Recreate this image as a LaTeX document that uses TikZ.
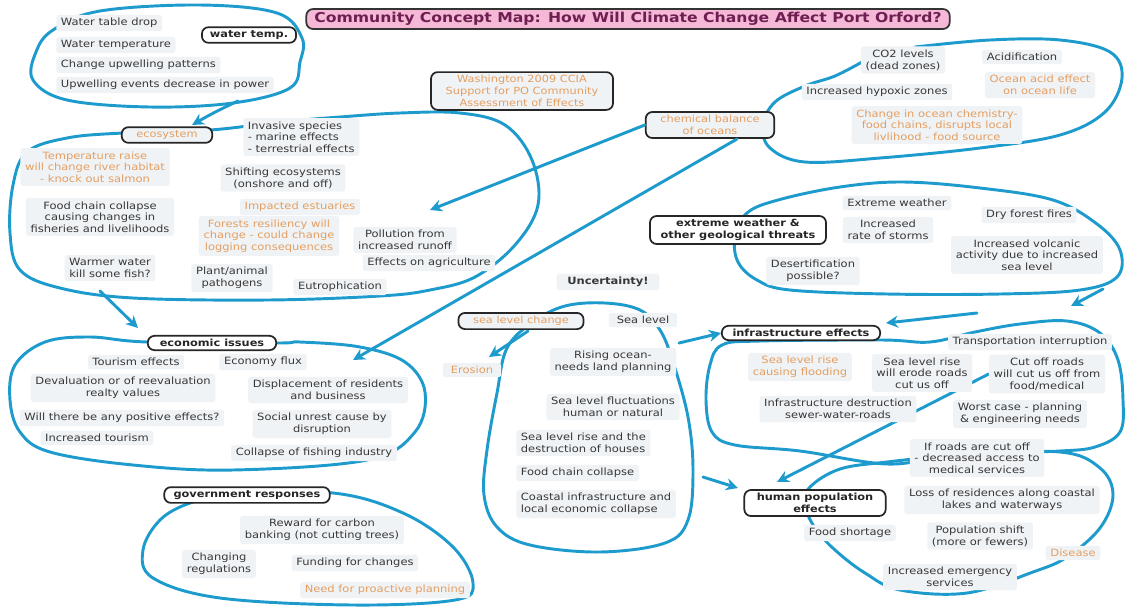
\documentclass[tikz,border=0pt]{standalone}
\usepackage{fontspec}
\setmainfont[FakeStretch=1.15]{DejaVu Sans}
\usetikzlibrary{arrows.meta,backgrounds}
\definecolor{lineblue}{RGB}{30,155,205}
\definecolor{orangetext}{RGB}{228,158,96}
\definecolor{textgray}{RGB}{55,55,55}
\definecolor{itemfill}{RGB}{240,243,246}
\definecolor{titlefill}{RGB}{245,185,215}
\definecolor{titletext}{RGB}{110,30,80}
\tikzset{
  blob/.style={draw=lineblue, line width=2.2pt, line cap=round},
  arr/.style={draw=lineblue, line width=2.2pt, line cap=round, -{Stealth[length=9pt,width=9pt]}},
  item/.style={fill=itemfill, rounded corners=2pt, inner xsep=3.5pt, inner ysep=2.5pt,
    font=\fontsize{7.5}{8.8}\selectfont, text=textgray, align=center},
  oitem/.style={item, text=orangetext},
  topic/.style={draw=black!85, line width=1.3pt, fill=white, rounded corners=5pt,
    font=\fontsize{7.4}{8.8}\selectfont\bfseries, text=black!85, align=center,
    inner xsep=6pt, inner ysep=2.5pt},
  otopic/.style={topic, fill=itemfill, text=orangetext, inner xsep=11pt,
    font=\fontsize{7.4}{8.8}\selectfont},
  titlebox/.style={draw=black!80, line width=1.3pt, fill=titlefill, rounded corners=5pt,
    font=\fontsize{10.2}{12}\selectfont\bfseries, text=titletext, inner xsep=6pt, inner ysep=2.5pt}
}
\begin{document}
\begin{tikzpicture}[x=0.75pt,y=-0.75pt]
\useasboundingbox (0,0) rectangle (1128,608);
% title
\node[titlebox] (title) at (628,19) {Community Concept Map: How Will Climate Change Affect Port Orford?};
% water temp
\node[topic] (wt) at (249,35) {water temp.};
\node[item,anchor=west] (w1) at (56,23) {Water table drop};
\node[item,anchor=west] (w2) at (56,45) {Water temperature};
\node[item,anchor=west] (w3) at (56,65) {Change upwelling patterns};
\node[item,anchor=west] (w4) at (56,85) {Upwelling events decrease in power};
% ecosystem
\node[otopic] (eco) at (167,135) {ecosystem};
\node[oitem] (e1) at (95,167) {Temperature raise\\will change river habitat\\- knock out salmon};
\node[item] (e2) at (100,217) {Food chain collapse\\causing changes in\\fisheries and livelihoods};
\node[item] (e3) at (110,268) {Warmer water\\kill some fish?};
\node[item,anchor=west,align=left] (e4) at (243,137) {Invasive species\\- marine effects\\- terrestrial effects};
\node[item] (e5) at (283,178) {Shifting ecosystems\\(onshore and off)};
\node[oitem] (e6) at (300,207) {Impacted estuaries};
\node[oitem] (e7) at (269,236) {Forests resiliency will\\change - could change\\logging consequences};
\node[item] (e8) at (232,278) {Plant/animal\\pathogens};
\node[item] (e9) at (340,287) {Eutrophication};
\node[item] (e10) at (405,240) {Pollution from\\increased runoff};
\node[item] (e11) at (429,263) {Effects on agriculture};
% washington
\node[otopic] (wash) at (522,91) {Washington 2009 CCIA\\Support for PO Community\\Assessment of Effects};
% chemical
\node[otopic] (chem) at (710,125) {chemical balance\\of oceans};
\node[item] (c1) at (903,60) {CO2 levels\\(dead zones)};
\node[item] (c2) at (1022,57) {Acidification};
\node[oitem] (c3) at (1040,85) {Ocean acid effect\\on ocean life};
\node[item] (c4) at (877,92) {Increased hypoxic zones};
\node[oitem] (c5) at (937,125) {Change in ocean chemistry-\\food chains, disrupts local\\livlihood - food source};
% extreme weather
\node[topic, inner xsep=8pt] (ext) at (738,230) {extreme weather \&\\other geological threats};
\node[item] (x1) at (897,203) {Extreme weather};
\node[item] (x2) at (888,230) {Increased\\rate of storms};
\node[item] (x3) at (1029,215) {Dry forest fires};
\node[item] (x4) at (1027,255) {Increased volcanic\\activity due to increased\\sea level};
\node[item] (x5) at (813,271) {Desertification\\possible?};
% uncertainty
\node[item, font=\fontsize{7.5}{8.8}\selectfont\bfseries, inner xsep=8pt] (unc) at (608,282) {Uncertainty!};
% sea level
\node[otopic] (sea) at (521,321) {sea level change};
\node[item, inner xsep=6pt] (s0) at (643,320) {Sea level};
\node[oitem, inner xsep=6pt] (ero) at (472,370) {Erosion};
\node[item] (s1) at (613,362) {Rising ocean-\\needs land planning};
\node[item] (s2) at (613,407) {Sea level fluctuations\\human or natural};
\node[item,anchor=west,align=left] (s3) at (516,443) {Sea level rise and the\\destruction of houses};
\node[item,anchor=west,align=left] (s4) at (516,473) {Food chain collapse};
\node[item,anchor=west,align=left] (s5) at (516,504) {Coastal infrastructure and\\local economic collapse};
% infrastructure
\node[topic, inner xsep=8pt] (inf) at (801,333) {infrastructure effects};
\node[item] (i1) at (1030,342) {Transportation interruption};
\node[oitem] (i2) at (800,367) {Sea level rise\\causing flooding};
\node[item] (i3) at (922,373) {Sea level rise\\will erode roads\\cut us off};
\node[item] (i4) at (1047,374) {Cut off roads\\will cut us off from\\food/medical};
\node[item] (i5) at (838,409) {Infrastructure destruction\\sewer-water-roads};
\node[item] (i6) at (1020,414) {Worst case - planning\\\& engineering needs};
% human population
\node[topic, minimum width=106pt] (hum) at (815,503) {human population\\effects};
\node[item] (h1) at (977,458) {If roads are cut off\\- decreased access to\\medical services};
\node[item] (h2) at (1002,500) {Loss of residences along coastal\\lakes and waterways};
\node[item] (h3) at (850,533) {Food shortage};
\node[item] (h4) at (980,536) {Population shift\\(more or fewers)};
\node[oitem] (h5) at (1073,553) {Disease};
\node[item] (h6) at (950,577) {Increased emergency\\services};
% economic
\node[topic, inner xsep=9pt] (eci) at (212,343) {economic issues};
\node[item] (n1) at (136,362) {Tourism effects};
\node[item] (n2) at (263,362) {Economy flux};
\node[item] (n3) at (123,388) {Devaluation or of reevaluation\\realty values};
\node[item] (n4) at (328,390) {Displacement of residents\\and business};
\node[item] (n5) at (122,418) {Will there be any positive effects?};
\node[item] (n6) at (322,424) {Social unrest cause by\\disruption};
\node[item] (n7) at (97,438) {Increased tourism};
\node[item] (n8) at (314,453) {Collapse of fishing industry};
% government
\node[topic, inner xsep=7pt] (gov) at (247,495) {government responses};
\node[item] (g1) at (322,530) {Reward for carbon\\banking (not cutting trees)};
\node[item] (g2) at (219,564) {Changing\\regulations};
\node[item] (g3) at (355,563) {Funding for changes};
\node[oitem] (g4) at (385,590) {Need for proactive planning};
% connector end points
\coordinate (p1s) at (238,101);
\coordinate (p1e) at (192,125);
\coordinate (p2e) at (430,210);
\coordinate (p3s) at (737,139);
\coordinate (p3e) at (353,360);
\coordinate (p4s) at (100,291);
\coordinate (p4e) at (138,328);
\coordinate (p5s) at (528,331);
\coordinate (p5e) at (489,357);
\coordinate (p6s) at (679,343);
\coordinate (p7s) at (703,477);
\coordinate (p7e) at (738,488);
\coordinate (p8s) at (1103,289);
\coordinate (p8e) at (1071,306);
\coordinate (p9s) at (977,313);
\coordinate (p9e) at (886,323);
\coordinate (p10e) at (777,482);
% connectors
\draw[arr] (p1s) to[out=205,in=30] (p1e);
\draw[arr] (chem.west) -- (p2e);
\draw[arr] (p3s) -- (p3e);
\draw[arr] (p4s) -- (p4e);
\draw[arr] (p5s) -- (p5e);
\draw[arr] (p6s) -- (inf.west);
\draw[arr] (p7s) -- (p7e);
\draw[arr] (p8s) -- (p8e);
\draw[arr] (p9s) -- (p9e);
\begin{pgfonlayer}{background}
\fill[white] (0,0) rectangle (1128,608);
\draw[arr] (i4.west) -- (p10e);
% water temp loop
\draw[blob] plot[smooth cycle, tension=0.6] coordinates {(53,30) (100,11) (200,5) (277,13) (302,38) (300,62) (290,88) (233,103) (150,107) (67,100) (33,80) (36,52)};
% ecosystem loop
\draw[blob] plot[smooth cycle, tension=0.6] coordinates {(123,133) (67,138) (27,152) (13,185) (10,233) (20,270) (60,288) (133,298) (267,300) (380,296) (430,290) (475,277) (515,245) (538,205) (532,160) (505,125) (460,113) (400,113) (340,117) (280,122) (210,130)};
% chemical loop
\draw[blob] plot[smooth, tension=0.6] coordinates {(915,47) (990,40) (1060,40) (1110,52) (1122,78) (1105,112) (1060,135) (980,148) (880,158) (805,162) (770,148) (763,125) (775,102) (805,86) (835,76) (862,62)};
% extreme weather loop
\draw[blob] plot[smooth cycle, tension=0.6] coordinates {(778,200) (840,187) (903,182) (980,188) (1053,200) (1097,224) (1120,250) (1117,277) (1080,290) (1000,294) (887,294) (790,290) (757,280) (738,262) (735,237) (747,213)};
% sea level loop
\draw[blob] plot[smooth cycle, tension=0.6] coordinates {(565,306) (533,322) (507,348) (497,393) (487,450) (484,495) (497,527) (530,545) (600,552) (665,543) (688,520) (693,470) (688,417) (673,362) (660,330) (640,310) (605,303)};
% infrastructure loop
\draw[blob] plot[smooth cycle, tension=0.6] coordinates {(882,340) (930,342) (975,332) (1020,324) (1067,321) (1100,333) (1118,360) (1123,400) (1120,432) (1095,447) (1060,451) (1000,453) (945,456) (887,464) (800,451) (735,445) (712,432) (706,400) (710,365) (722,345) (760,341)};
% human loop
\draw[blob] plot[smooth cycle, tension=0.6] coordinates {(810,487) (840,469) (887,462) (960,455) (1060,452) (1100,468) (1113,495) (1100,528) (1067,557) (1033,572) (967,593) (900,590) (865,573) (835,550) (815,528) (805,505)};
% economic loop
\draw[blob] plot[smooth cycle, tension=0.6] coordinates {(147,342) (90,337) (45,342) (15,365) (10,400) (20,432) (50,452) (133,465) (233,470) (367,460) (415,432) (425,392) (405,362) (360,347) (300,342) (277,343)};
% government loop
\draw[blob] plot[smooth cycle, tension=0.6] coordinates {(333,493) (403,513) (453,547) (473,583) (455,600) (353,605) (220,598) (153,578) (143,550) (160,520) (190,503) (230,495)};
\end{pgfonlayer}
\end{tikzpicture}
\end{document}
